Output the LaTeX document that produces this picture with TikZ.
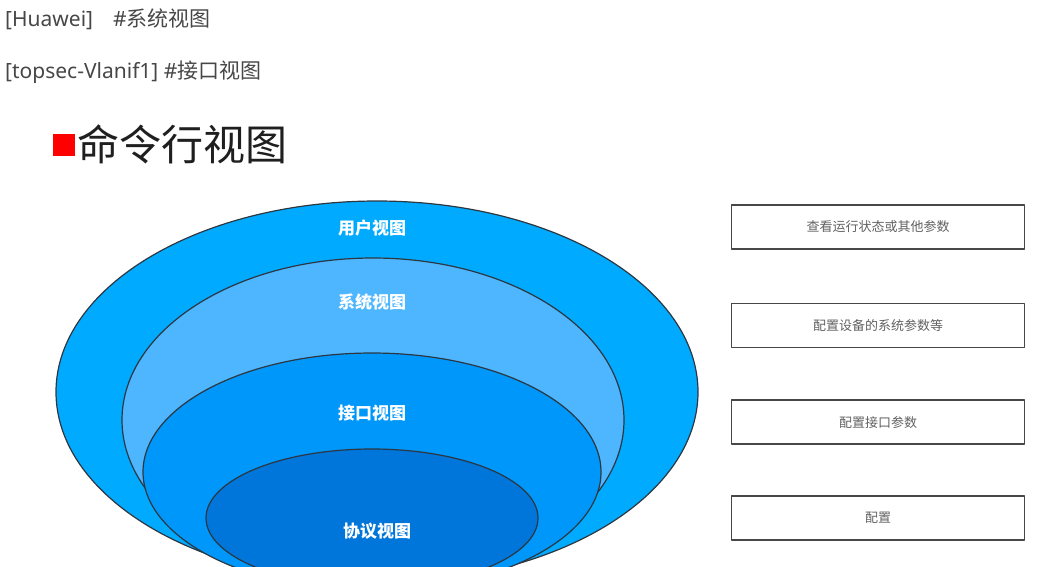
\documentclass[tikz,border=0pt]{standalone}
\usepackage{fontspec}
\setmainfont{Noto Sans}
\newfontfamily\cjk{Noto Sans CJK SC}
\usetikzlibrary{positioning}
\definecolor{kuori1}{RGB}{0,170,255}
\definecolor{kuori2}{RGB}{77,182,255}
\definecolor{kuori3}{RGB}{0,151,250}
\definecolor{kuori4}{RGB}{0,117,218}
\definecolor{reuna}{RGB}{45,55,65}

\begin{document}
\begin{tikzpicture}[x=1pt,y=-1pt,line join=round,
  kuori/.style={draw=reuna,line width=1.2pt},
  nimi/.style={text=white,font=\cjk\bfseries\fontsize{17}{19}\selectfont},
  rivi/.style={anchor=west,inner sep=0pt,text=black!72,font=\fontsize{21}{24}\selectfont},
  laatikko/.style={draw=black!72,line width=1.6pt,minimum width=293pt,minimum height=44pt,
    inner sep=0pt,text=black!62,font=\cjk\fontsize{13}{15}\selectfont}]
\useasboundingbox (0,0) rectangle (1040,566);

%ylarivit
\node[rivi] (huawei) at (5,19) {[Huawei]\hspace{20pt}\#{\cjk 系统视图}};
\node[rivi] (topsec) at (5,72) {[topsec-Vlanif1] \#{\cjk 接口视图}};

%otsikko
\node[fill=red,minimum size=22pt,inner sep=0pt] (nelio) at (63.5,144.5) {};
\node[right=3pt of nelio,inner sep=0pt,text=black!88,font=\cjk\fontsize{42}{46}\selectfont] (otsikko) {命令行视图};

%sisakkaiset ellipsit
\begin{scope}
\clip (0,0) rectangle (1040,566);
\filldraw[kuori,fill=kuori1] (377,392) ellipse [x radius=321,y radius=191];
\filldraw[kuori,fill=kuori2] (373,420) ellipse [x radius=251,y radius=162];
\filldraw[kuori,fill=kuori3] (372,472) ellipse [x radius=229,y radius=119];
\filldraw[kuori,fill=kuori4] (372,518) ellipse [x radius=166,y radius=69];
\end{scope}
\node[nimi] (kayttaja) at (372,228) {用户视图};
\node[nimi] (jarjestelma) at (372,302) {系统视图};
\node[nimi] (liitanta) at (372,413) {接口视图};
\node[nimi] (protokolla) at (377,531) {协议视图};

%laatikot oikealla
\node[laatikko] (tila) at (878,227) {查看运行状态或其他参数};
\node[laatikko,below=53pt of tila] (asetus) {配置设备的系统参数等};
\node[laatikko,below=51pt of asetus] (portti) {配置接口参数};
\node[laatikko,below=50pt of portti] (konf) {配置};
\end{tikzpicture}
\end{document}
